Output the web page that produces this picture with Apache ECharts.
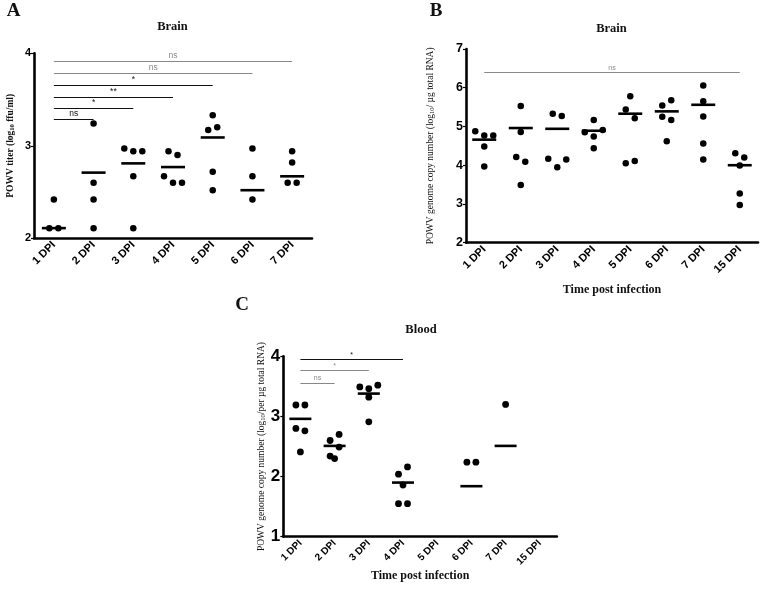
<!DOCTYPE html>
<html>
<head>
<meta charset="utf-8">
<script src="https://cdn.jsdelivr.net/npm/echarts@6/dist/echarts.min.js"></script>
<style>html,body{margin:0;padding:0;background:#fff}#c{width:760px;height:593px}</style>
</head>
<body>
<div id="c"></div>
<script>
// ---------------- DATA ----------------
const catsA = ['1 DPI','2 DPI','3 DPI','4 DPI','5 DPI','6 DPI','7 DPI'];
const catsB = ['1 DPI','2 DPI','3 DPI','4 DPI','5 DPI','6 DPI','7 DPI','15 DPI'];
const catsC = ['1 DPI','2 DPI','3 DPI','4 DPI','5 DPI','6 DPI','7 DPI','15 DPI'];

// Panel A: POWV titer in brain (log10 ffu/ml)
const brainTiter = [
  [2.42, 2.11, 2.11],
  [3.24, 2.60, 2.42, 2.11],
  [2.97, 2.94, 2.94, 2.67, 2.11],
  [2.94, 2.90, 2.67, 2.60, 2.60],
  [3.33, 3.17, 3.20, 2.72, 2.52],
  [2.97, 2.67, 2.42],
  [2.94, 2.82, 2.60, 2.60]
];
const brainTiterLine = [2.11, 2.71, 2.81, 2.77, 3.09, 2.52, 2.67];

// Panel B: genome copies in brain
const brainRNA = [
  [4.88, 4.77, 4.77, 4.48, 3.97],
  [5.53, 4.86, 4.21, 4.09, 3.49],
  [5.33, 5.27, 4.17, 3.95, 4.15],
  [5.17, 4.85, 4.74, 4.91, 4.44],
  [5.78, 5.44, 5.21, 4.05, 4.11],
  [5.54, 5.68, 5.25, 5.17, 4.62],
  [6.06, 5.65, 5.26, 4.56, 4.15],
  [4.31, 4.20, 3.99, 3.27, 2.97]
];
const brainRNALine = [4.66, 4.96, 4.94, 4.89, 5.33, 5.39, 5.56, 4.00];

// Panel C: genome copies in blood
const bloodRNA = [
  [3.19, 3.19, 2.80, 2.76, 2.41],
  [2.60, 2.70, 2.34, 2.49, 2.30],
  [3.49, 3.46, 3.52, 3.32, 2.91],
  [2.04, 2.16, 1.86, 1.55, 1.55],
  [],
  [2.24, 2.24],
  [3.20],
  []
];
const bloodRNALine = [2.96, 2.51, 3.38, 1.90, null, 1.84, 2.51, null];

// significance bars: [from category index, to category index, level, label]
const sigA = [[0,1,3.29,'ns'],[0,2,3.405,'*'],[0,3,3.524,'**'],[0,4,3.654,'*'],[0,5,3.784,'ns'],[0,6,3.91,'ns']];
const sigB = [[0,7,6.39,'ns']];
const sigC = [[0,1,3.56,'ns'],[0,2,3.76,'*'],[0,3,3.95,'*']];

// y-axis ranges
const yA = [2, 4], yB = [2, 7], yC = [1, 4];

// ---------------- STYLE / LAYOUT ----------------
const grids = [
  {left: 34, top: 53.3, width: 278, height: 185},
  {left: 466, top: 49, width: 292, height: 193.7},
  {left: 283.3, top: 356.3, width: 273.6, height: 180.4}
];
const sigColorsA = ['#111','#111','#111','#111','#888','#888'];
const sigColorsB = ['#888'];
const sigColorsC = ['#888','#888','#111'];

const SERIF = 'Liberation Serif';
const SANS = 'Liberation Sans';

// horizontal spreading of overlapping dots (rows centred on category)
function swarm(vals, pxPerUnit, thr, gap) {
  const idx = vals.map((v,i)=>i).sort((a,b)=>vals[b]-vals[a]);
  const rows = [];
  let cur = null;
  idx.forEach(i => {
    if (cur && (vals[cur.start]-vals[i])*pxPerUnit < thr) cur.items.push(i);
    else { cur = {start:i, items:[i]}; rows.push(cur); }
  });
  const off = new Array(vals.length).fill(0);
  rows.forEach(r => {
    r.items.sort((a,b)=>a-b);
    const n = r.items.length;
    r.items.forEach((i,k) => off[i] = (k-(n-1)/2)*gap);
  });
  return off;
}

function dotData(groups, range, grid) {
  const ppu = grid.height/(range[1]-range[0]);
  const out = [];
  groups.forEach((vals, c) => {
    const off = swarm(vals, ppu, 9.5, 9);
    vals.forEach((v,i) => out.push({value:[c, v], symbolOffset:[off[i], 0]}));
  });
  return out;
}
function lineData(arr) {
  const out = [];
  arr.forEach((v,c) => { if (v !== null) out.push([c, v]); });
  return out;
}
function sigData(sig, colors, fs) {
  return sig.map((s,i) => [
    {coord:[s[0], s[2]], lineStyle:{color:colors[i], width:1, type:'solid', opacity:1},
     label:{show:true, position:'middle', formatter:s[3], color:colors[i], fontSize:fs, fontFamily:SANS, distance:1}},
    {coord:[s[1], s[2]]}
  ]);
}

function xAxisCfg(gi, cats, fs, name, nameGap) {
  return {
    type:'category', gridIndex:gi, data:cats, boundaryGap:true,
    axisLine:{lineStyle:{color:'#000', width:2.6}},
    axisTick:{alignWithLabel:true, length:4, lineStyle:{color:'#000', width:1.5}},
    axisLabel:{rotate:45, interval:0, fontSize:fs, fontWeight:'bold', color:'#000', fontFamily:SANS, margin:5},
    splitLine:{show:false},
    name:name, nameLocation:'middle', nameGap:nameGap,
    nameTextStyle:{fontFamily:SERIF, fontWeight:'bold', fontSize:12, color:'#111'}
  };
}
function yAxisCfg(gi, range, fs, name, nameGap, nameWeight) {
  return {
    type:'value', gridIndex:gi, min:range[0], max:range[1], interval:1,
    axisLine:{show:true, lineStyle:{color:'#000', width:2.6}},
    axisTick:{show:true, length:3, lineStyle:{color:'#000', width:1.2}},
    axisLabel:{fontSize:fs, fontWeight:'bold', color:'#000', fontFamily:SANS, margin:3},
    splitLine:{show:false},
    name:name, nameLocation:'middle', nameGap:nameGap, nameRotate:90,
    nameTextStyle:{fontFamily:SERIF, fontWeight:nameWeight, fontSize:9.5, color:'#111',
      rich:{s:{fontFamily:SERIF, fontWeight:nameWeight, fontSize:6.5, color:'#111', verticalAlign:'bottom', padding:[4,0,0,0]}}}
  };
}

const chart = echarts.init(document.getElementById('c'), null, {renderer:'canvas'});

const dotSeries = (gi, data, size) => ({type:'scatter', xAxisIndex:gi, yAxisIndex:gi, data:data,
  symbol:'circle', symbolSize:size, itemStyle:{color:'#000', opacity:1}, silent:true, z:3});
const medSeries = (gi, data, w) => ({type:'scatter', xAxisIndex:gi, yAxisIndex:gi, data:data,
  symbol:'rect', symbolSize:[w, 2.6], itemStyle:{color:'#000', opacity:1}, silent:true, z:4});
const sigSeries = (gi, sig, colors, fs) => ({type:'scatter', xAxisIndex:gi, yAxisIndex:gi, data:[], silent:true,
  markLine:{silent:true, symbol:['none','none'], animation:false, data:sigData(sig, colors, fs)}});

const texts = [
  ['A', 13.5, 11.5, 'bold 19px "'+SERIF+'"'],
  ['B', 436, 11.5, 'bold 19px "'+SERIF+'"'],
  ['C', 242, 305, 'bold 19px "'+SERIF+'"'],
  ['Brain', 172.5, 26.5, 'bold 12.5px "'+SERIF+'"'],
  ['Brain', 611.5, 29, 'bold 12.5px "'+SERIF+'"'],
  ['Blood', 421, 330, 'bold 12.5px "'+SERIF+'"']
];

chart.setOption({
  animation:false,
  backgroundColor:'#fff',
  grid: grids.map(g => Object.assign({containLabel:false, outerBoundsMode:'none'}, g)),
  xAxis:[
    xAxisCfg(0, catsA, 11, '', 0),
    xAxisCfg(1, catsB, 11, 'Time post infection', 41),
    xAxisCfg(2, catsC, 10, 'Time post infection', 31)
  ],
  yAxis:[
    yAxisCfg(0, yA, 11, 'POWV titer (log{s|10} ffu/ml)', 18, 'bold'),
    yAxisCfg(1, yB, 12.5, 'POWV genome copy number (log{s|10}/ µg total RNA)', 30, 'normal'),
    yAxisCfg(2, yC, 17, 'POWV genome copy number (log{s|10}/per µg total RNA)', 16, 'normal')
  ],
  graphic: texts.map(t => ({type:'text', x:t[1], y:t[2], silent:true,
    style:{text:t[0], font:t[3], fill:'#111', textAlign:'center', textVerticalAlign:'middle'}})),
  series:[
    dotSeries(0, dotData(brainTiter, yA, grids[0]), 6.5),
    medSeries(0, lineData(brainTiterLine), 24),
    sigSeries(0, sigA, sigColorsA, 8.5),
    dotSeries(1, dotData(brainRNA, yB, grids[1]), 6.5),
    medSeries(1, lineData(brainRNALine), 24),
    sigSeries(1, sigB, sigColorsB, 7),
    dotSeries(2, dotData(bloodRNA, yC, grids[2]), 6.8),
    medSeries(2, lineData(bloodRNALine), 22),
    sigSeries(2, sigC, sigColorsC, 7)
  ]
});
</script>
</body>
</html>
